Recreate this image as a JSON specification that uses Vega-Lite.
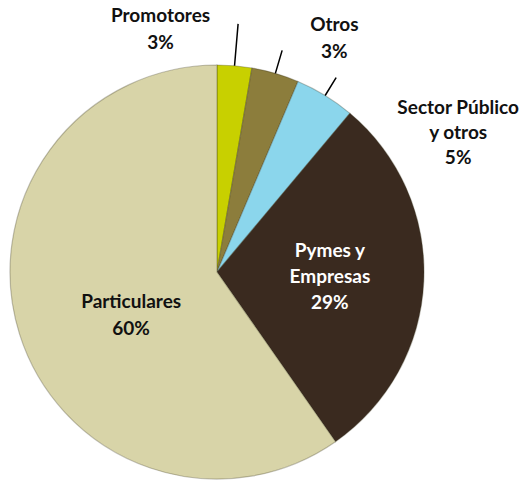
{
  "$schema": "https://vega.github.io/schema/vega-lite/v6.json",
  "width": 400,
  "height": 400,
  "autosize": {"type": "none"},
  "padding": {"left": 17, "top": 72, "right": 109, "bottom": 8},
  "background": "white",
  "config": {"view": {"stroke": null}},
  "data": {
    "values": [
      {"cat": "Promotores", "valor": 2.7, "orden": 1, "etiqueta": "Promotores\n3%"},
      {"cat": "Otros", "valor": 3.7, "orden": 2, "etiqueta": "Otros\n3%"},
      {"cat": "Sector Público y otros", "valor": 4.7, "orden": 3, "etiqueta": "Sector Público\ny otros\n5%"},
      {"cat": "Pymes y Empresas", "valor": 29.2, "orden": 4, "etiqueta": "Pymes y\nEmpresas\n29%"},
      {"cat": "Particulares", "valor": 59.7, "orden": 5, "etiqueta": "Particulares\n60%"}
    ]
  },
  "encoding": {
    "theta": {"field": "valor", "type": "quantitative", "stack": true},
    "order": {"field": "orden", "type": "quantitative", "sort": "ascending"},
    "detail": {"field": "cat", "type": "nominal"}
  },
  "layer": [
    {
      "mark": {"type": "arc", "radius": 207, "stroke": "#3d3820", "strokeOpacity": 0.3, "strokeWidth": 1.2},
      "encoding": {
        "color": {
          "field": "cat",
          "type": "nominal",
          "legend": null,
          "scale": {
            "domain": ["Promotores", "Otros", "Sector Público y otros", "Pymes y Empresas", "Particulares"],
            "range": ["#c8d000", "#8c7d3c", "#8bd6ec", "#3a2a1f", "#d8d4a8"]
          }
        }
      }
    },
    {
      "mark": {"type": "arc", "radius": 249, "radius2": 207, "padAngle": 1, "fillOpacity": 0, "stroke": "#000000", "strokeWidth": 1.5},
      "encoding": {"strokeOpacity": {"condition": {"test": "datum.orden === 1", "value": 1}, "value": 0}}
    },
    {
      "mark": {"type": "arc", "radius": 231, "radius2": 207, "padAngle": 1, "fillOpacity": 0, "stroke": "#000000", "strokeWidth": 1.5},
      "encoding": {"strokeOpacity": {"condition": {"test": "datum.orden === 2", "value": 1}, "value": 0}}
    },
    {
      "mark": {"type": "arc", "radius": 228, "radius2": 207, "padAngle": 1, "fillOpacity": 0, "stroke": "#000000", "strokeWidth": 1.5},
      "encoding": {"strokeOpacity": {"condition": {"test": "datum.orden === 3", "value": 1}, "value": 0}}
    },
    {
      "mark": {"type": "text", "radius": 207, "dx": -74, "dy": -50, "lineBreak": "\n", "lineHeight": 27, "font": "Lato", "fontWeight": "bold", "fontSize": 19, "fill": "#111111", "align": "center", "baseline": "middle"},
      "encoding": {"text": {"field": "etiqueta"}, "opacity": {"condition": {"test": "datum.orden === 1", "value": 1}, "value": 0}}
    },
    {
      "mark": {"type": "text", "radius": 207, "dx": 59, "dy": -48, "lineBreak": "\n", "lineHeight": 27, "font": "Lato", "fontWeight": "bold", "fontSize": 19, "fill": "#111111", "align": "center", "baseline": "middle"},
      "encoding": {"text": {"field": "etiqueta"}, "opacity": {"condition": {"test": "datum.orden === 2", "value": 1}, "value": 0}}
    },
    {
      "mark": {"type": "text", "radius": 207, "dx": 133, "dy": 12, "lineBreak": "\n", "lineHeight": 25, "font": "Lato", "fontWeight": "bold", "fontSize": 19, "fill": "#111111", "align": "center", "baseline": "middle"},
      "encoding": {"text": {"field": "etiqueta"}, "opacity": {"condition": {"test": "datum.orden === 3", "value": 1}, "value": 0}}
    },
    {
      "mark": {"type": "text", "radius": 113, "dx": 0, "dy": -26, "lineBreak": "\n", "lineHeight": 26, "font": "Lato", "fontWeight": "bold", "fontSize": 19, "fill": "#ffffff", "align": "center", "baseline": "middle"},
      "encoding": {"text": {"field": "etiqueta"}, "opacity": {"condition": {"test": "datum.orden === 4", "value": 1}, "value": 0}}
    },
    {
      "mark": {"type": "text", "radius": 90, "dx": 0, "dy": 3, "lineBreak": "\n", "lineHeight": 27, "font": "Lato", "fontWeight": "bold", "fontSize": 19, "fill": "#111111", "align": "center", "baseline": "middle"},
      "encoding": {"text": {"field": "etiqueta"}, "opacity": {"condition": {"test": "datum.orden === 5", "value": 1}, "value": 0}}
    }
  ]
}
